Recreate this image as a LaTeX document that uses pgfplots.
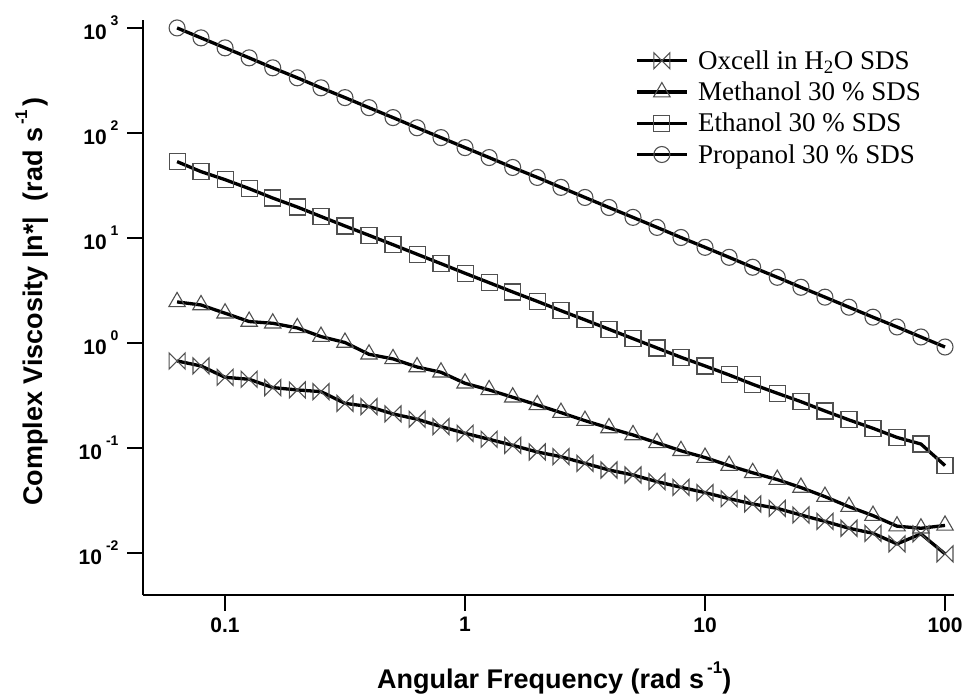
\documentclass[border=0pt]{standalone}
\usepackage{pgfplots}
\pgfplotsset{compat=1.18}
\usepackage{pgfplotstable}
\usepackage{fontspec}
\setmainfont{Liberation Sans}
\newfontfamily\seriffont{Liberation Serif}
\definecolor{markgray}{HTML}{505050}

\pgfdeclareplotmark{bowtie}{%
  \pgfpathmoveto{\pgfqpoint{-\pgfplotmarksize}{\pgfplotmarksize}}%
  \pgfpathlineto{\pgfqpoint{0pt}{0pt}}%
  \pgfpathlineto{\pgfqpoint{-\pgfplotmarksize}{-\pgfplotmarksize}}%
  \pgfpathclose
  \pgfpathmoveto{\pgfqpoint{\pgfplotmarksize}{\pgfplotmarksize}}%
  \pgfpathlineto{\pgfqpoint{0pt}{0pt}}%
  \pgfpathlineto{\pgfqpoint{\pgfplotmarksize}{-\pgfplotmarksize}}%
  \pgfpathclose
  \pgfusepathqstroke}

\newcommand\tl[1]{10\kern4bp\raisebox{14bp}{\fontsize{14bp}{14bp}\selectfont #1}}

\pgfplotstableread{
x      ox      me      et     pr
0.0631 0.674   2.46    53.3   1000
0.0794 0.604   2.30    42.8   804
0.1    0.471   1.92    35.9   646
0.126  0.451   1.60    29.5   519
0.158  0.376   1.54    24.0   417
0.2    0.357   1.39    19.7   335
0.251  0.344   1.15    16.0   269
0.316  0.266   1.01    13.0   217
0.398  0.248   0.780   10.6   174
0.501  0.211   0.705   8.63   140
0.631  0.188   0.590   7.00   112
0.794  0.160   0.526   5.69   90.3
1      0.138   0.413   4.61   72.5
1.26   0.121   0.357   3.75   58.3
1.58   0.106   0.304   3.06   46.9
2      0.0916  0.257   2.49   37.7
2.51   0.0826  0.217   2.03   30.3
3.16   0.0714  0.182   1.66   24.3
3.98   0.0617  0.155   1.35   19.5
5.01   0.0553  0.133   1.10   15.7
6.31   0.0478  0.112   0.896  12.6
7.94   0.0422  0.094   0.731  10.1
10     0.0376  0.081   0.604  8.14
12.6   0.0329  0.068   0.496  6.54
15.8   0.0293  0.058   0.404  5.26
20     0.0266  0.050   0.332  4.22
25.1   0.0230  0.042   0.276  3.39
31.6   0.0200  0.0344  0.225  2.73
39.8   0.0172  0.0276  0.185  2.19
50.1   0.0154  0.0227  0.154  1.76
63.1   0.0122  0.0180  0.126  1.42
79.4   0.0152  0.0172  0.109  1.14
100    0.0098  0.0183  0.068  0.915
}\datatable

\begin{document}
\begin{tikzpicture}
\useasboundingbox (-143bp,-101bp) rectangle (825bp,595bp);
\begin{axis}[
  at={(0,0)}, anchor=south west,
  scale only axis, width=811bp, height=575bp,
  xmode=log, ymode=log,
  xmin=0.0455, xmax=109, ymin=0.00398, ymax=1190,
  axis x line*=bottom, axis y line*=left,
  axis line style={line width=1.3bp, black},
  tick align=outside, major tick length=16bp,
  tick style={line width=1.3bp, black},
  xminorticks=false, yminorticks=false,
  xtick={0.1,1,10,100}, xticklabels={0.1,1,10,100},
  ytick={0.01,0.1,1,10,100,1000},
  yticklabels={\tl{-2},\tl{-1},\tl{0},\tl{1},\tl{2},\tl{3}},
  ticklabel style={font=\bfseries\fontsize{21bp}{21bp}\selectfont},
  xticklabel style={yshift=-3bp},
  yticklabel style={xshift=-5bp},
  xlabel={Angular Frequency (rad s\kern3bp\raisebox{15bp}{\fontsize{17bp}{17bp}\selectfont -1})},
  ylabel={Complex Viscosity |n*|\ \ (rad s\kern3bp\raisebox{15bp}{\fontsize{17bp}{17bp}\selectfont -1}\kern3bp)},
  label style={font=\bfseries\fontsize{27bp}{27bp}\selectfont},
  xlabel style={at={(axis description cs:0.507,-0.162)}, anchor=base},
  ylabel style={at={(axis description cs:-0.1245,0.51)}, anchor=base, rotate=0},
  legend style={at={(axis description cs:0.603,0.953)}, anchor=north west, draw=none, fill=none,
    font=\seriffont\fontsize{27bp}{30bp}\selectfont, row sep=8bp,
    nodes={inner sep=1.5bp},
    /tikz/every odd column/.append style={column sep=8bp}},
  legend cell align=left,
  legend image code/.code={\draw[mark repeat=2,mark phase=2,#1] plot coordinates {(0bp,0bp) (25bp,0bp) (50bp,0bp)};},
  every axis plot/.append style={black, line width=3.3bp,
    mark options={draw=markgray, fill=none, line width=1.1bp, solid}},
  clip=false,
]
\addplot[mark=bowtie, mark size=8bp] table[x=x, y=ox] {\datatable};
\addlegendentry{Oxcell in H\textsubscript{2}O SDS}
\addplot[mark=triangle, mark size=9.5bp] table[x=x, y=me] {\datatable};
\addlegendentry{Methanol 30 \% SDS}
\addplot[mark=square, mark size=8bp] table[x=x, y=et] {\datatable};
\addlegendentry{Ethanol 30 \% SDS}
\addplot[mark=o, mark size=8bp] table[x=x, y=pr] {\datatable};
\addlegendentry{Propanol 30 \% SDS}
\end{axis}
\end{tikzpicture}
\end{document}
